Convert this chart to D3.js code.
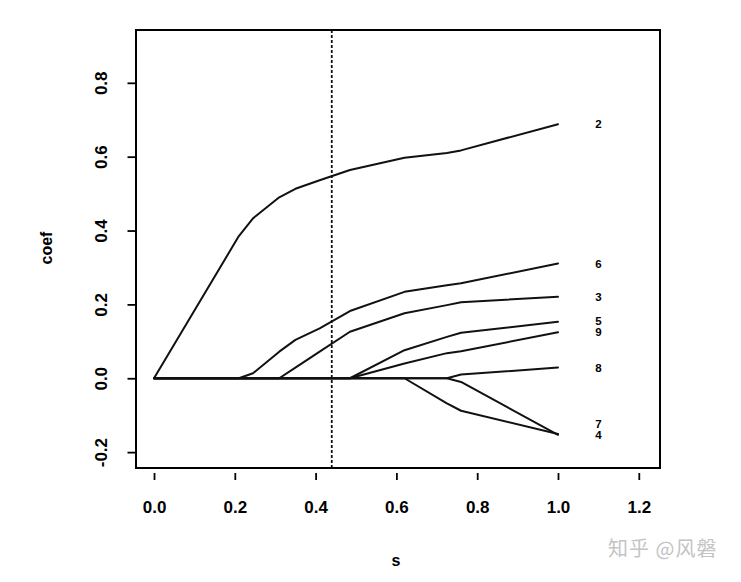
<!DOCTYPE html>
<html>
<head>
<meta charset="utf-8">
<script src="https://cdn.jsdelivr.net/npm/d3@7"></script>
<style>
  html, body { margin: 0; padding: 0; background: #fff; }
  svg { display: block; }
  text { font-family: "Liberation Sans", Arial, Helvetica, sans-serif; font-weight: bold; fill: #000; }
</style>
</head>
<body>
<svg id="chart" width="741" height="582"></svg>
<script>
// ---- data ----
const sKnots = [0, 0.21, 0.245, 0.31, 0.35, 0.41, 0.485, 0.62, 0.725, 0.76, 1.0];
const varNames = ["2", "3", "4", "5", "6", "7", "8", "9"];
const coef2 = [0, 0.385, 0.433, 0.49, 0.513, 0.536, 0.564, 0.597, 0.61, 0.617, 0.688];
const coef3 = [0, 0, 0, 0, 0.029, 0.072, 0.126, 0.176, 0.198, 0.206, 0.221];
const coef4 = [0, 0, 0, 0, 0, 0, 0, 0, 0, -0.01, -0.153];
const coef5 = [0, 0, 0, 0, 0, 0, 0, 0.076, 0.112, 0.123, 0.153];
const coef6 = [0, 0, 0.0135, 0.072, 0.104, 0.135, 0.182, 0.234, 0.252, 0.257, 0.311];
const coef7 = [0, 0, 0, 0, 0, 0, 0, 0, -0.068, -0.088, -0.151];
const coef8 = [0, 0, 0, 0, 0, 0, 0, 0, 0, 0.01, 0.029];
const coef9 = [0, 0, 0, 0, 0, 0, 0, 0.04, 0.068, 0.073, 0.1245];
const xTicks = [0, 0.2, 0.4, 0.6, 0.8, 1.0, 1.2];
const yTicks = [-0.2, 0, 0.2, 0.4, 0.6, 0.8];
const chosenS = 0.44;
const labelS = 1.1;
const xTitle = "s";
const yTitle = "coef";
const watermark = "知乎 @风磐";

const coefs = [coef2, coef3, coef4, coef5, coef6, coef7, coef8, coef9];
const series = varNames.map((n, i) => ({ name: n, values: sKnots.map((s, j) => ({ s, c: coefs[i][j] })) }));

// ---- layout ----
const frame = { left: 136, right: 660, top: 30, bottom: 468 };
const x = d3.scaleLinear().domain([-0.0446, 1.2525]).range([frame.left, frame.right]);
const y = d3.scaleLinear().domain([-0.243, 0.943]).range([frame.bottom, frame.top]);
const fmt = v => d3.format(".1f")(v).replace("\u2212", "-");

const svg = d3.select("#chart");

// paths
const line = d3.line().x(d => x(d.s)).y(d => y(d.c));
svg.append("g").selectAll("path").data(series).join("path")
  .attr("d", d => line(d.values))
  .attr("fill", "none").attr("stroke", "#111").attr("stroke-width", 2)
  .attr("stroke-linejoin", "round").attr("stroke-linecap", "round");

// chosen s dotted line
svg.append("line")
  .attr("x1", x(chosenS)).attr("x2", x(chosenS))
  .attr("y1", frame.top).attr("y2", frame.bottom)
  .attr("stroke", "#111").attr("stroke-width", 1.8).attr("stroke-dasharray", "3,2");

// frame
svg.append("rect")
  .attr("x", frame.left).attr("y", frame.top)
  .attr("width", frame.right - frame.left).attr("height", frame.bottom - frame.top)
  .attr("fill", "none").attr("stroke", "#000").attr("stroke-width", 2);

// x axis
const gx = svg.append("g").attr("transform", `translate(0,473)`)
  .call(d3.axisBottom(x).tickValues(xTicks).tickFormat(fmt).tickSize(7));
gx.select(".domain").remove();
gx.selectAll(".tick line").attr("stroke", "#000").attr("stroke-width", 1.8);
gx.selectAll(".tick text").attr("y", 39.5).attr("dy", 0)
  .style("font-size", "17px").style("font-family", "'Liberation Sans', Arial, sans-serif").style("font-weight", "bold").attr("fill", "#000");

// y axis
const gy = svg.append("g").attr("transform", `translate(${frame.left},0)`)
  .call(d3.axisLeft(y).tickValues(yTicks).tickFormat(fmt).tickSize(8.5));
gy.select(".domain").remove();
gy.selectAll(".tick line").attr("stroke", "#000").attr("stroke-width", 1.8);
gy.selectAll(".tick text")
  .attr("x", 0).attr("dy", 0)
  .attr("text-anchor", "middle")
  .attr("transform", "translate(-29.5,0) rotate(-90)")
  .style("font-size", "17px").style("font-family", "'Liberation Sans', Arial, sans-serif").style("font-weight", "bold").attr("fill", "#000");

// axis titles
svg.append("text").attr("x", 396).attr("y", 566).attr("text-anchor", "middle")
  .style("font-size", "16px").text(xTitle);
svg.append("text").attr("transform", "translate(51.5,248) rotate(-90)").attr("text-anchor", "middle")
  .style("font-size", "16px").text(yTitle);

// end labels with simple collision avoidance (push upward)
const ends = series.map(d => ({ name: d.name, py: y(d.values[d.values.length - 1].c) }))
  .sort((a, b) => b.py - a.py);
for (let i = 1; i < ends.length; i++) {
  if (ends[i].py > ends[i - 1].py - 11) ends[i].py = ends[i - 1].py - 11;
}
svg.append("g").selectAll("text").data(ends).join("text")
  .attr("x", x(labelS)).attr("y", d => d.py).attr("dy", "0.36em")
  .attr("text-anchor", "middle")
  .style("font-size", "11.5px").text(d => d.name);

// watermark
svg.append("text").attr("x", 608).attr("y", 556)
  .style("font-family", "'Noto Sans CJK SC', sans-serif").style("font-weight", "normal")
  .style("font-size", "20px").style("letter-spacing", "1px").style("fill", "#c4c4c4")
  .text(watermark);
</script>
</body>
</html>
